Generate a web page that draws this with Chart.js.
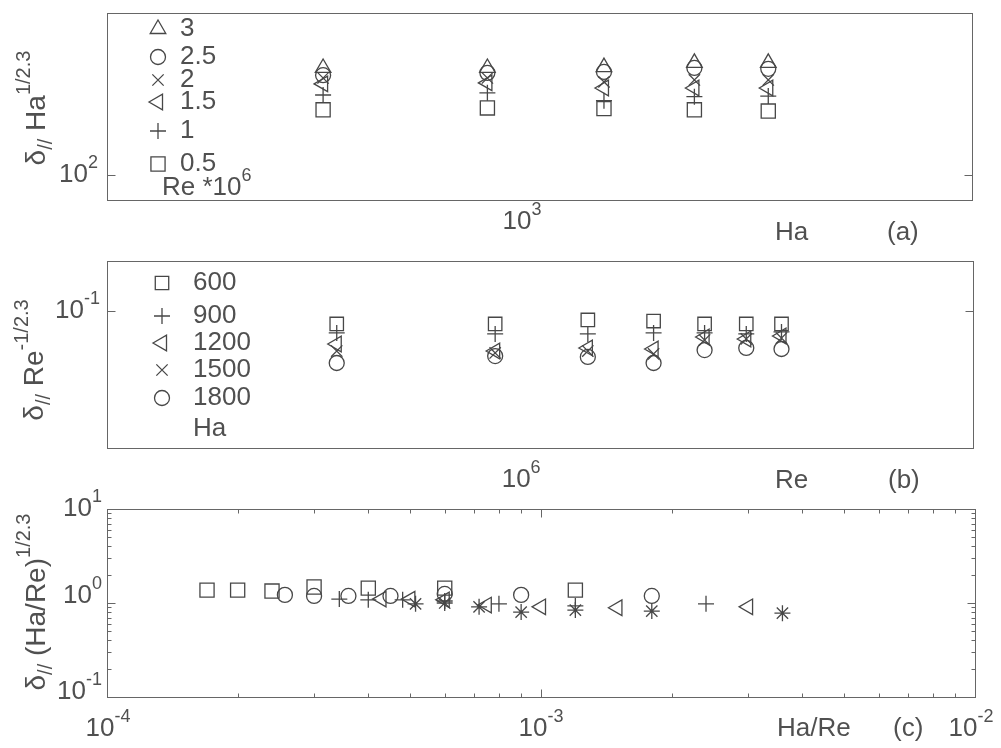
<!DOCTYPE html>
<html>
<head>
<meta charset="utf-8">
<script src="https://cdn.jsdelivr.net/npm/chart.js@4.4.1/dist/chart.umd.min.js"></script>
<style>
body{margin:0;background:#fff;width:1001px;height:748px;position:relative;overflow:hidden}
canvas{position:absolute;left:0}
</style>
</head>
<body>
<canvas id="chartA" width="1001" height="250" style="top:0"></canvas>
<canvas id="chartB" width="1001" height="250" style="top:250px"></canvas>
<canvas id="chartC" width="1001" height="278" style="top:470px"></canvas>
<script>
// (a) delta*Ha^(1/2.3) against Ha, one series per Re*10^6
const haA = [600, 900, 1200, 1500, 1800]
const reLabelsA = ['3', '2.5', '2', '1.5', '1', '0.5']
const aRe3 = [258, 258, 260, 270, 270]
const aRe25 = [242, 247, 249, 258, 256]
const aRe2 = [236, 236, 228, 232, 232]
const aRe15 = [224, 226, 216, 216, 216]
const aRe1 = [203, 207, 193, 200, 201]
const aRe05 = [178, 181, 180, 178, 176]

// (b) delta*Re^(-1/2.3) against Re, one series per Ha
const reB = [0.5e6, 1e6, 1.5e6, 2e6, 2.5e6, 3e6, 3.5e6]
const haLabelsB = ['600', '900', '1200', '1500', '1800']
const bHa600 = [0.0859, 0.0859, 0.0900, 0.0889, 0.0859, 0.0859, 0.0859]
const bHa900 = [0.0773, 0.0764, 0.0764, 0.0773, 0.0773, 0.0764, 0.0782]
const bHa1200 = [0.0679, 0.0625, 0.0648, 0.0640, 0.0737, 0.0720, 0.0746]
const bHa1500 = [0.0625, 0.0611, 0.0625, 0.0604, 0.0711, 0.0720, 0.0728]
const bHa1800 = [0.0543, 0.0589, 0.0583, 0.0543, 0.0632, 0.0648, 0.0640]

// (c) delta*(Ha/Re)^(1/2.3) against Ha/Re
const cX600 = [1.7e-4, 2e-4, 2.4e-4, 3e-4, 4e-4, 6e-4, 1.2e-3]
const cY600 = [1.37, 1.37, 1.34, 1.48, 1.44, 1.44, 1.37]
const cX900 = [2.57e-4, 3e-4, 3.6e-4, 4.5e-4, 6e-4, 9e-4, 1.8e-3]
const cY900 = [1.22, 1.19, 1.19, 1.19, 1.25, 1.22, 1.19]
const cX1200 = [3.43e-4, 4e-4, 4.8e-4, 6e-4, 8e-4, 1.2e-3, 2.4e-3]
const cY1200 = [1.10, 1.08, 1.08, 1.05, 0.98, 0.93, 0.98]
const cX1500 = [4.29e-4, 5e-4, 6e-4, 7.5e-4, 1e-3, 1.5e-3, 3e-3]
const cY1500 = [1.10, 1.10, 1.08, 0.95, 0.91, 0.89, 0.91]
const cX1800 = [5.14e-4, 6e-4, 7.2e-4, 9e-4, 1.2e-3, 1.8e-3, 3.6e-3]
const cY1800 = [0.98, 1.0, 0.91, 0.80, 0.84, 0.82, 0.78]

// tick values
const yMajorC = [0.1, 1, 10]
const yMinorC = [0.2, 0.3, 0.4, 0.5, 0.6, 0.7, 0.8, 0.9, 2, 3, 4, 5, 6, 7, 8, 9]
const xMajorC = [1e-4, 1e-3, 1e-2]
const xMinorC = [2e-4, 3e-4, 4e-4, 5e-4, 6e-4, 7e-4, 8e-4, 9e-4, 2e-3, 3e-3, 4e-3, 5e-3, 6e-3, 7e-3, 8e-3, 9e-3]

const FONT = '"Liberation Sans", Arial, sans-serif'
const INK = '#474747'
const TEXT = '#505050'
const SIZE = 26

const pts = (xs, ys) => xs.map((x, i) => ({x: x, y: ys[i]}))

function ds(label, data, style, r, rot) {
  return {
    label: label, data: data, pointStyle: style, pointRadius: r, pointRotation: rot || 0,
    borderColor: INK, backgroundColor: 'rgba(0,0,0,0)', pointBorderWidth: 1.3,
    pointHoverRadius: r, showLine: false
  }
}

function setFont(ctx, size) { ctx.font = size + 'px ' + FONT }

// parts: [text, '' | 'sup' | 'sub']
function drawRich(ctx, parts, x, y, size, align) {
  const small = Math.round(size * 0.7)
  let w = 0
  parts.forEach(p => { setFont(ctx, p[1] ? small : size); w += ctx.measureText(p[0]).width })
  let cx = align == 'left' ? x : align == 'right' ? x - w : x - w / 2
  ctx.textAlign = 'left'
  ctx.textBaseline = 'middle'
  parts.forEach(p => {
    setFont(ctx, p[1] ? small : size)
    const dy = p[1] == 'sup' ? -size * 0.45 : p[1] == 'sub' ? size * 0.35 : 0
    ctx.fillText(p[0], cx, y + dy)
    cx += ctx.measureText(p[0]).width
  })
}

function line(ctx, x1, y1, x2, y2) {
  ctx.beginPath(); ctx.moveTo(x1, y1); ctx.lineTo(x2, y2); ctx.stroke()
}

function decorFor(cfg) {
  return {
    id: 'decor',
    afterDraw(chart) {
      const ctx = chart.ctx, a = chart.chartArea
      const sx = chart.scales.x, sy = chart.scales.y
      ctx.save()
      ctx.strokeStyle = '#666'
      ctx.lineWidth = 1
      const L = Math.round(a.left) + 0.5, R = Math.round(a.right) + 0.5
      const T = Math.round(a.top) + 0.5, B = Math.round(a.bottom) + 0.5
      ctx.strokeRect(L, T, R - L, B - T)
      ;(cfg.yTicks || []).forEach(t => {
        const p = Math.round(sy.getPixelForValue(t[0])) + 0.5
        line(ctx, L, p, L + t[1], p); line(ctx, R, p, R - t[1], p)
      })
      ;(cfg.xTicks || []).forEach(t => {
        const p = Math.round(sx.getPixelForValue(t[0])) + 0.5
        line(ctx, p, B, p, B - t[1]); line(ctx, p, T, p, T + t[1])
      })
      ctx.fillStyle = TEXT
      ;(cfg.yLabels || []).forEach(l => {
        drawRich(ctx, [['10', ''], [l.exp, 'sup']], cfg.yLabelRight, sy.getPixelForValue(l.v) + (l.dy || 0), SIZE, 'right')
      })
      ;(cfg.xLabels || []).forEach(l => {
        drawRich(ctx, [['10', ''], [l.exp, 'sup']], sx.getPixelForValue(l.v) + (l.dx || 0), cfg.xLabelY, SIZE, 'center')
      })
      ;(cfg.texts || []).forEach(t => drawRich(ctx, t.parts, t.x, t.y, SIZE, 'left'))
      // rotated y title
      ctx.save()
      ctx.translate(cfg.title.x, cfg.title.y)
      ctx.rotate(-Math.PI / 2)
      drawRich(ctx, cfg.title.parts, 0, 0, 28, 'center')
      ctx.restore()
      // legend
      if (cfg.legend) {
        const lg = cfg.legend
        chart.data.datasets.forEach((d, i) => {
          ctx.strokeStyle = INK
          ctx.fillStyle = 'rgba(0,0,0,0)'
          ctx.lineWidth = 1.3
          Chart.helpers.drawPoint(ctx, {pointStyle: d.pointStyle, radius: d.pointRadius, rotation: d.pointRotation, borderWidth: 1.3}, lg.mx, lg.rows[i])
          ctx.fillStyle = TEXT
          drawRich(ctx, [[d.label, '']], lg.tx, lg.rows[i], SIZE, 'left')
        })
        ctx.fillStyle = TEXT
        drawRich(ctx, lg.footer, lg.fx, lg.fy, SIZE, 'left')
      }
      ctx.restore()
    }
  }
}

function makeChart(id, datasets, xr, yr, pad, cfg) {
  return new Chart(document.getElementById(id), {
    type: 'scatter',
    data: {datasets: datasets},
    options: {
      responsive: false,
      animation: false,
      devicePixelRatio: 1,
      layout: {padding: pad},
      scales: {
        x: {type: 'logarithmic', display: false, min: xr[0], max: xr[1]},
        y: {type: 'logarithmic', display: false, min: yr[0], max: yr[1]}
      },
      plugins: {legend: {display: false}, tooltip: {enabled: false}}
    },
    plugins: [decorFor(cfg)]
  })
}

const delta = [['\u03b4', ''], ['//', 'sub']]

makeChart('chartA', [
  ds(reLabelsA[0], pts(haA, aRe3), 'triangle', 9),
  ds(reLabelsA[1], pts(haA, aRe25), 'circle', 7.5),
  ds(reLabelsA[2], pts(haA, aRe2), 'crossRot', 8),
  ds(reLabelsA[3], pts(haA, aRe15), 'triangle', 9, -90),
  ds(reLabelsA[4], pts(haA, aRe1), 'cross', 8),
  ds(reLabelsA[5], pts(haA, aRe05), 'rect', 10)
], [352, 2976], [80, 420], {left: 107, right: 29, top: 13, bottom: 50}, {
  yTicks: [[100, 8]],
  yLabelRight: 98,
  yLabels: [{v: 100, exp: '2'}],
  xLabelY: 222,
  xLabels: [{v: 1000, exp: '3', dx: -8}],
  texts: [{parts: [['Ha', '']], x: 775, y: 233}, {parts: [['(a)', '']], x: 887, y: 233}],
  title: {x: 37, y: 108, parts: delta.concat([[' Ha', ''], ['1/2.3', 'sup']])},
  legend: {mx: 158, tx: 180, rows: [29, 57, 80, 102, 131, 164], fx: 162, fy: 188,
    footer: [['Re *10', ''], ['6', 'sup']]}
})

makeChart('chartB', [
  ds(haLabelsB[0], pts(reB, bHa600), 'rect', 9.5),
  ds(haLabelsB[1], pts(reB, bHa900), 'cross', 8),
  ds(haLabelsB[2], pts(reB, bHa1200), 'triangle', 9, -90),
  ds(haLabelsB[3], pts(reB, bHa1500), 'crossRot', 8),
  ds(haLabelsB[4], pts(reB, bHa1800), 'circle', 7.5)
], [1.83e5, 8.09e6], [0.02, 0.18], {left: 107, right: 28, top: 11, bottom: 52}, {
  yTicks: [[0.1, 8]],
  yLabelRight: 100,
  yLabels: [{v: 0.1, exp: '-1'}],
  xLabelY: 230,
  xLabels: [{v: 1e6, exp: '6', dx: 26}],
  texts: [{parts: [['Re', '']], x: 775, y: 231}, {parts: [['(b)', '']], x: 888, y: 231}],
  title: {x: 35, y: 110, parts: delta.concat([[' Re', ''], ['-1/2.3', 'sup']])},
  legend: {mx: 162, tx: 193, rows: [33, 66, 93, 120, 148], fx: 193, fy: 179,
    footer: [['Ha', '']]}
})

makeChart('chartC', [
  ds('600', pts(cX600, cY600), 'rect', 10),
  ds('900', pts(cX900, cY900), 'circle', 7.5),
  ds('1200', pts(cX1200, cY1200), 'cross', 8),
  ds('1500', pts(cX1500, cY1500), 'triangle', 9, -90),
  ds('1800', pts(cX1800, cY1800), 'star', 8)
], [1e-4, 1e-2], [0.1, 10], {left: 107, right: 26, top: 39, bottom: 51}, {
  yTicks: yMajorC.map(v => [v, 8]).concat(yMinorC.map(v => [v, 4])),
  xTicks: xMajorC.map(v => [v, 8]).concat(xMinorC.map(v => [v, 4])),
  yLabelRight: 102,
  yLabels: [{v: 10, exp: '1', dy: 0}, {v: 1, exp: '0', dy: -7}, {v: 0.1, exp: '-1', dy: -5}],
  xLabelY: 259,
  xLabels: [{v: 1e-4, exp: '-4', dx: 1}, {v: 1e-3, exp: '-3'}, {v: 1e-2, exp: '-2', dx: -4}],
  texts: [{parts: [['Ha/Re', '']], x: 777, y: 259}, {parts: [['(c)', '']], x: 893, y: 259}],
  title: {x: 37, y: 132, parts: delta.concat([[' (Ha/Re)', ''], ['1/2.3', 'sup']])}
})
</script>
</body>
</html>
